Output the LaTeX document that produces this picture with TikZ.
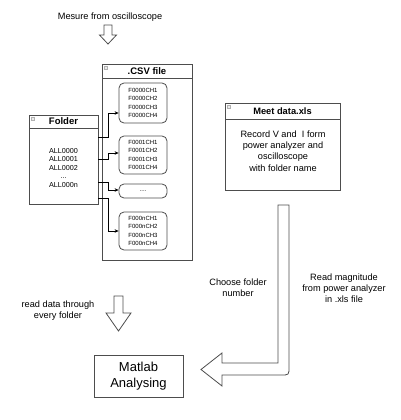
\documentclass[tikz,border=0pt]{standalone}
\usepackage{fontspec}
\setmainfont{Liberation Sans}
\usetikzlibrary{arrows.meta,calc}
\definecolor{bordc}{HTML}{4D4D4D}
\tikzset{
  lbl/.style={inner sep=0pt,align=center,font=\fontsize{9.2}{11}\selectfont},
  hdr/.style={inner sep=0pt,font=\fontsize{9.5}{11}\selectfont\bfseries},
  cont/.style={draw=bordc,line width=0.8pt,fill=white},
  chbox/.style={draw=bordc,line width=0.8pt,rounded corners=5pt,minimum width=48pt,inner sep=0pt,align=center,font=\fontsize{6}{8.5}\selectfont},
  blockarrow/.style={draw=bordc,line width=0.8pt,fill=white,line join=miter},
  conn/.style={draw=black,line width=0.6pt,-{Stealth[length=4pt,width=3.5pt]}},
  icon/.style={draw=black!30,fill=black!8,line width=0.3pt}
}
\begin{document}
\begin{tikzpicture}[x=1pt,y=-1pt]
\useasboundingbox (0,0) rectangle (400,420);
% top label and arrow
\node[lbl] (mesure) at (110,17) {Mesure from oscilloscope};
\draw[blockarrow] (104,25) -- (112,25) -- (112,35) -- (116.5,35) -- (108,44) -- (99.5,35) -- (104,35) -- cycle;
% CSV container
\draw[cont] (102,64) rectangle (192,260);
\draw[bordc,line width=0.8pt] (102,78) -- (192,78);
\draw[icon] (104,66) rectangle (107,69);
\node[hdr] (csvh) at (147,71.5) {.CSV file};
\node[chbox,minimum height=40pt] (b1) at (143,103) {F0000CH1\\F0000CH2\\F0000CH3\\F0000CH4};
\node[chbox,minimum height=38pt] (b2) at (143,155) {F0001CH1\\F0001CH2\\F0001CH3\\F0001CH4};
\node[chbox,minimum height=14pt] (b3) at (143,191) {....};
\node[chbox,minimum height=38pt] (b4) at (143,231) {F000nCH1\\F000nCH2\\F000nCH3\\F000nCH4};
% Folder container
\node[cont,minimum width=69pt,minimum height=89pt,inner sep=0pt] (folder) at (63.5,159.5) {};
\draw[bordc,line width=0.8pt] (29,128) -- (98,128);
\draw[icon] (31,117) rectangle (34,120);
\node[hdr] (folderh) at (63.5,121.5) {Folder};
\node[inner sep=0pt,align=center,font=\fontsize{7.2}{8.5}\selectfont] (alls) at (63.5,168) {ALL0000\\ALL0001\\ALL0002\\...\\ALL000n};
% connectors
\coordinate (y1) at (0,137);
\coordinate (y2) at (0,159);
\coordinate (y3) at (0,182);
\coordinate (y4) at (0,198);
\coordinate (t1) at (0,113);
\coordinate (t2) at (0,153);
\coordinate (t3) at (0,190);
\coordinate (t4) at (0,231);
\draw[conn] (folder.east |- y1) -- (108,137) |- (b1.west |- t1);
\draw[conn] (folder.east |- y2) -- (108,159) |- (b2.west |- t2);
\draw[conn] (folder.east |- y3) -- (108,182) |- (b3.west |- t3);
\draw[conn] (folder.east |- y4) -- (108,198) |- (b4.west |- t4);
% Meet data.xls
\draw[cont] (225,103) rectangle (340,190);
\draw[bordc,line width=0.8pt] (225,119) -- (340,119);
\draw[icon] (227,105) rectangle (230,108);
\node[hdr,font=\fontsize{9.3}{11}\selectfont\bfseries] (meeth) at (282.5,111) {Meet data.xls};
\node[lbl,font=\fontsize{9.2}{11.4}\selectfont] (meetb) at (283,151) {Record V and~~I form\\power analyzer and\\oscilloscope\\with folder name};
% big L arrow
\draw[blockarrow] (278,205) -- (289,205) -- (289,367) .. controls (289,375) .. (281,375) -- (222,375) -- (222,386) -- (201,369.5) -- (222,353) -- (222,363) -- (278,363) -- cycle;
% Matlab box
\node[draw=bordc,line width=0.8pt,minimum width=89pt,minimum height=42pt,inner sep=0pt,align=center,font=\fontsize{13}{16}\selectfont] (matlab) at (138.5,376) {Matlab\\Analysing};
% second down arrow
\draw[blockarrow] (114,296) -- (123,296) -- (123,313) -- (131,313) -- (118.5,331) -- (106,313) -- (114,313) -- cycle;
% labels
\node[lbl] (readdata) at (58,310.5) {read data through\\every folder};
\node[lbl] (choose) at (238,287.5) {Choose folder\\number};
\node[lbl] (readmag) at (344,288) {Read magnitude\\from power analyzer\\in .xls file};
\end{tikzpicture}
\end{document}
